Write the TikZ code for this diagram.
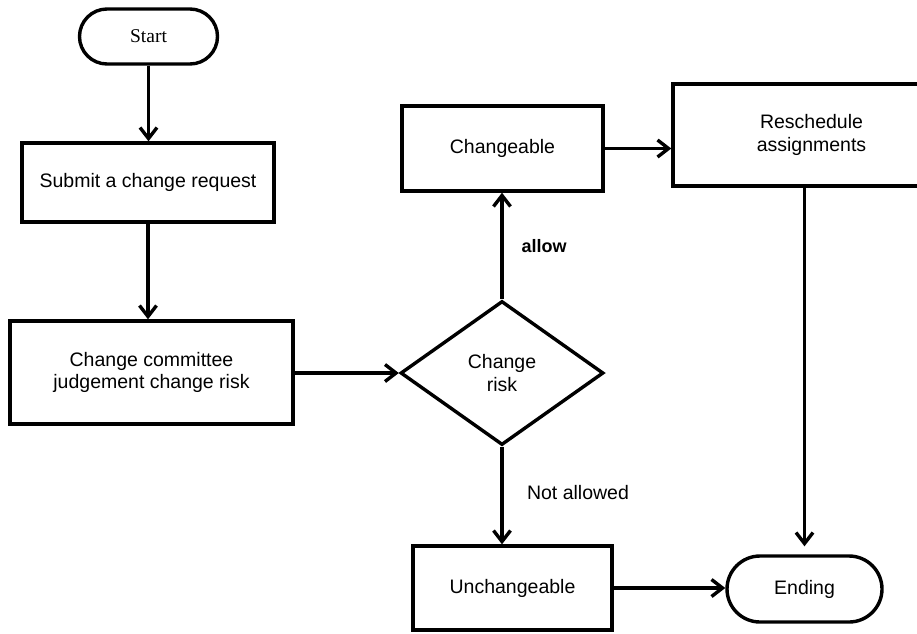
\documentclass[tikz,border=0pt]{standalone}
\usepackage{fontspec}
\setmainfont{Liberation Sans}
\newfontfamily\seriffam{Liberation Serif}
\usetikzlibrary{arrows.meta,shapes.geometric,shapes.misc}
\begin{document}
\begin{tikzpicture}[x=1pt,y=-1pt,
  flow/.style={draw=black, line width=3.4pt, inner sep=0pt, align=center,
    font=\fontsize{19.5}{22.5}\selectfont},
  procbox/.style={flow, rectangle},
  termbox/.style={flow, rounded rectangle},
  decbox/.style={flow, diamond},
  conn/.style={line width=3.4pt, -{Straight Barb[length=11pt,width=17pt]}},
  lbl/.style={font=\fontsize{19.5}{22.5}\selectfont}]
\clip (0,0) rectangle (917,633);
\node[termbox, minimum width=138pt, minimum height=55pt, font=\fontsize{19.5}{22.5}\seriffam] (start) at (148.5,36.5) {Start};
\node[procbox, minimum width=252pt, minimum height=79pt] (submit) at (148,182.5) {Submit a change request};
\node[procbox, minimum width=283pt, minimum height=103pt] (comm) at (151.5,372.5) {Change committee\\judgement change risk};
\node[decbox, minimum width=203pt, minimum height=144pt] (risk) at (502,373) {Change\\risk};
\node[procbox, minimum width=201pt, minimum height=85pt] (chg) at (502.5,148.5) {Changeable};
\node[procbox, minimum width=277pt, minimum height=102pt] (resch) at (811.5,135) {Reschedule\\assignments};
\node[termbox, minimum width=155pt, minimum height=66pt] (ending) at (804.5,589) {Ending};
\node[procbox, minimum width=199pt, minimum height=84pt] (unch) at (512.5,588) {Unchangeable};
\node[font=\fontsize{18}{20}\selectfont\bfseries] (allow) at (544,246) {allow};
\node[lbl] (notallowed) at (578,493) {Not allowed};
\draw[conn] (start.south) -- (start.south |- submit.north);
\draw[conn] (submit.south) -- (submit.south |- comm.north);
\draw[conn] (comm.east |- risk.west) -- (risk.west);
\draw[conn] (risk.north) -- (chg.south -| risk.north);
\draw[conn] (chg.east) -- (chg.east -| resch.west);
\draw[conn, shorten >=8pt] (ending.north |- resch.south) -- (ending.north);
\draw[conn] (risk.south) -- (risk.south |- unch.north);
\draw[conn] (unch.east) -- (unch.east -| ending.west);
\end{tikzpicture}
\end{document}
